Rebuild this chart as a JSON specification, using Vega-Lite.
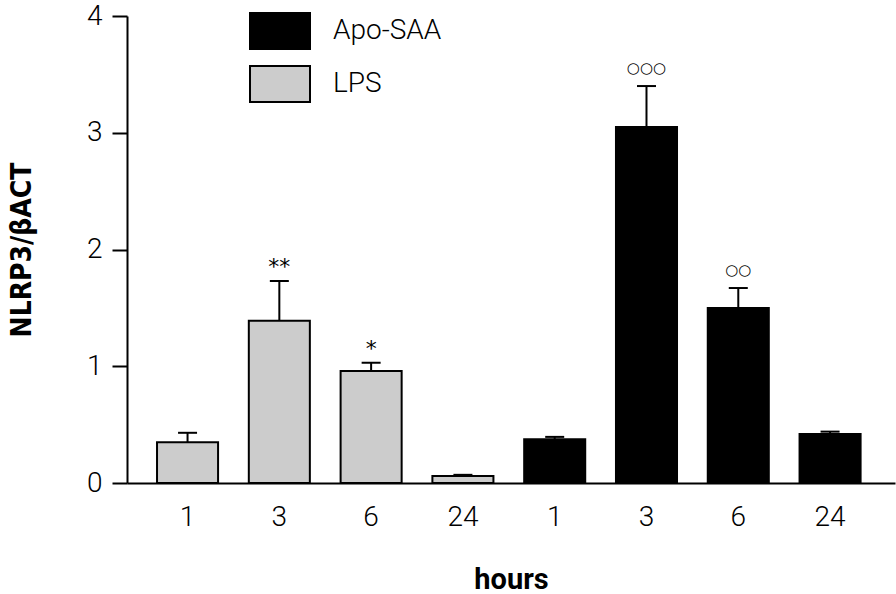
{
  "$schema": "https://vega.github.io/schema/vega-lite/v6.json",
  "width": 768,
  "height": 467,
  "autosize": {"type": "none"},
  "padding": {"left": 127, "top": 16, "right": 1, "bottom": 111},
  "background": "white",
  "config": {"view": {"stroke": null}},
  "data": {
    "values": [
      {"treatment": "LPS", "bar": "LPS 1", "mean": 0.35, "err": 0.43, "sig": ""},
      {"treatment": "LPS", "bar": "LPS 3", "mean": 1.39, "err": 1.73, "sig": "**"},
      {"treatment": "LPS", "bar": "LPS 6", "mean": 0.96, "err": 1.03, "sig": "*"},
      {"treatment": "LPS", "bar": "LPS 24", "mean": 0.06, "err": 0.07, "sig": ""},
      {"treatment": "Apo-SAA", "bar": "Apo-SAA 1", "mean": 0.375, "err": 0.395, "sig": ""},
      {"treatment": "Apo-SAA", "bar": "Apo-SAA 3", "mean": 3.05, "err": 3.4, "sig": "○○○"},
      {"treatment": "Apo-SAA", "bar": "Apo-SAA 6", "mean": 1.5, "err": 1.67, "sig": "○○"},
      {"treatment": "Apo-SAA", "bar": "Apo-SAA 24", "mean": 0.42, "err": 0.44, "sig": ""}
    ]
  },
  "encoding": {
    "x": {
      "field": "bar",
      "type": "nominal",
      "sort": ["LPS 1", "LPS 3", "LPS 6", "LPS 24", "Apo-SAA 1", "Apo-SAA 3", "Apo-SAA 6", "Apo-SAA 24"],
      "scale": {"paddingInner": 0.335, "paddingOuter": 0.351, "align": 0.466},
      "axis": {
        "title": "hours",
        "labelExpr": "split(datum.value, ' ')[1]",
        "labelAngle": 0,
        "ticks": false,
        "tickSize": 0,
        "labelPadding": 20,
        "labelFont": "Roboto",
        "labelFontWeight": 300,
        "labelFontSize": 28,
        "labelColor": "black",
        "domainColor": "black",
        "domainWidth": 2,
        "titleFont": "Roboto",
        "titleFontWeight": "bold",
        "titleFontSize": 29,
        "titleColor": "black",
        "titleX": 384,
        "titleY": 105,
        "titleAlign": "center",
        "titleBaseline": "alphabetic"
      }
    }
  },
  "layer": [
    {
      "mark": {"type": "bar", "stroke": "black", "strokeWidth": 2},
      "encoding": {
        "y": {
          "field": "mean",
          "type": "quantitative",
          "scale": {"domain": [0, 4], "nice": false},
          "axis": {
            "title": "NLRP3/βACT",
            "values": [0, 1, 2, 3, 4],
            "format": "d",
            "grid": false,
            "tickSize": 15,
            "tickWidth": 2,
            "tickColor": "black",
            "domainColor": "black",
            "domainWidth": 2,
            "labelPadding": 10,
            "labelFont": "Roboto",
            "labelFontWeight": 300,
            "labelFontSize": 28,
            "labelColor": "black",
            "titleFont": "DejaVu Sans Condensed, Liberation Sans Narrow, Roboto",
            "titleFontWeight": "bold",
            "titleFontSize": 28,
            "titleColor": "black",
            "titleAngle": -90,
            "titleX": -105,
            "titleY": 233.5,
            "titleAlign": "center",
            "titleBaseline": "middle"
          }
        },
        "fill": {
          "field": "treatment",
          "type": "nominal",
          "scale": {"domain": ["Apo-SAA", "LPS"], "range": ["black", "#cccccc"]},
          "legend": {
            "orient": "none",
            "legendX": 122,
            "legendY": -16,
            "title": null,
            "padding": 0,
            "symbolType": "M-1,-0.6H1V0.6H-1Z",
            "symbolSize": 3600,
            "symbolStrokeColor": "black",
            "symbolStrokeWidth": 2,
            "symbolOpacity": 1,
            "labelFont": "Roboto",
            "labelFontWeight": 300,
            "labelFontSize": 28,
            "labelColor": "black",
            "labelOffset": 22,
            "rowPadding": -2
          }
        }
      }
    },
    {
      "mark": {"type": "rule", "color": "black", "strokeWidth": 2},
      "encoding": {
        "y": {"field": "mean", "type": "quantitative"},
        "y2": {"field": "err"}
      }
    },
    {
      "mark": {"type": "tick", "color": "black", "size": 19, "thickness": 2, "opacity": 1},
      "encoding": {
        "y": {"field": "err", "type": "quantitative"}
      }
    },
    {
      "transform": [{"filter": "indexof(datum.sig, '*') >= 0"}],
      "mark": {"type": "text", "dy": -14, "baseline": "middle", "font": "DejaVu Sans", "fontSize": 22, "color": "black"},
      "encoding": {
        "y": {"field": "err", "type": "quantitative"},
        "text": {"field": "sig"}
      }
    },
    {
      "transform": [{"filter": "indexof(datum.sig, '○') >= 0"}],
      "mark": {"type": "text", "dy": -18, "baseline": "middle", "font": "DejaVu Sans", "fontSize": 15, "color": "black"},
      "encoding": {
        "y": {"field": "err", "type": "quantitative"},
        "text": {"field": "sig"}
      }
    }
  ]
}
